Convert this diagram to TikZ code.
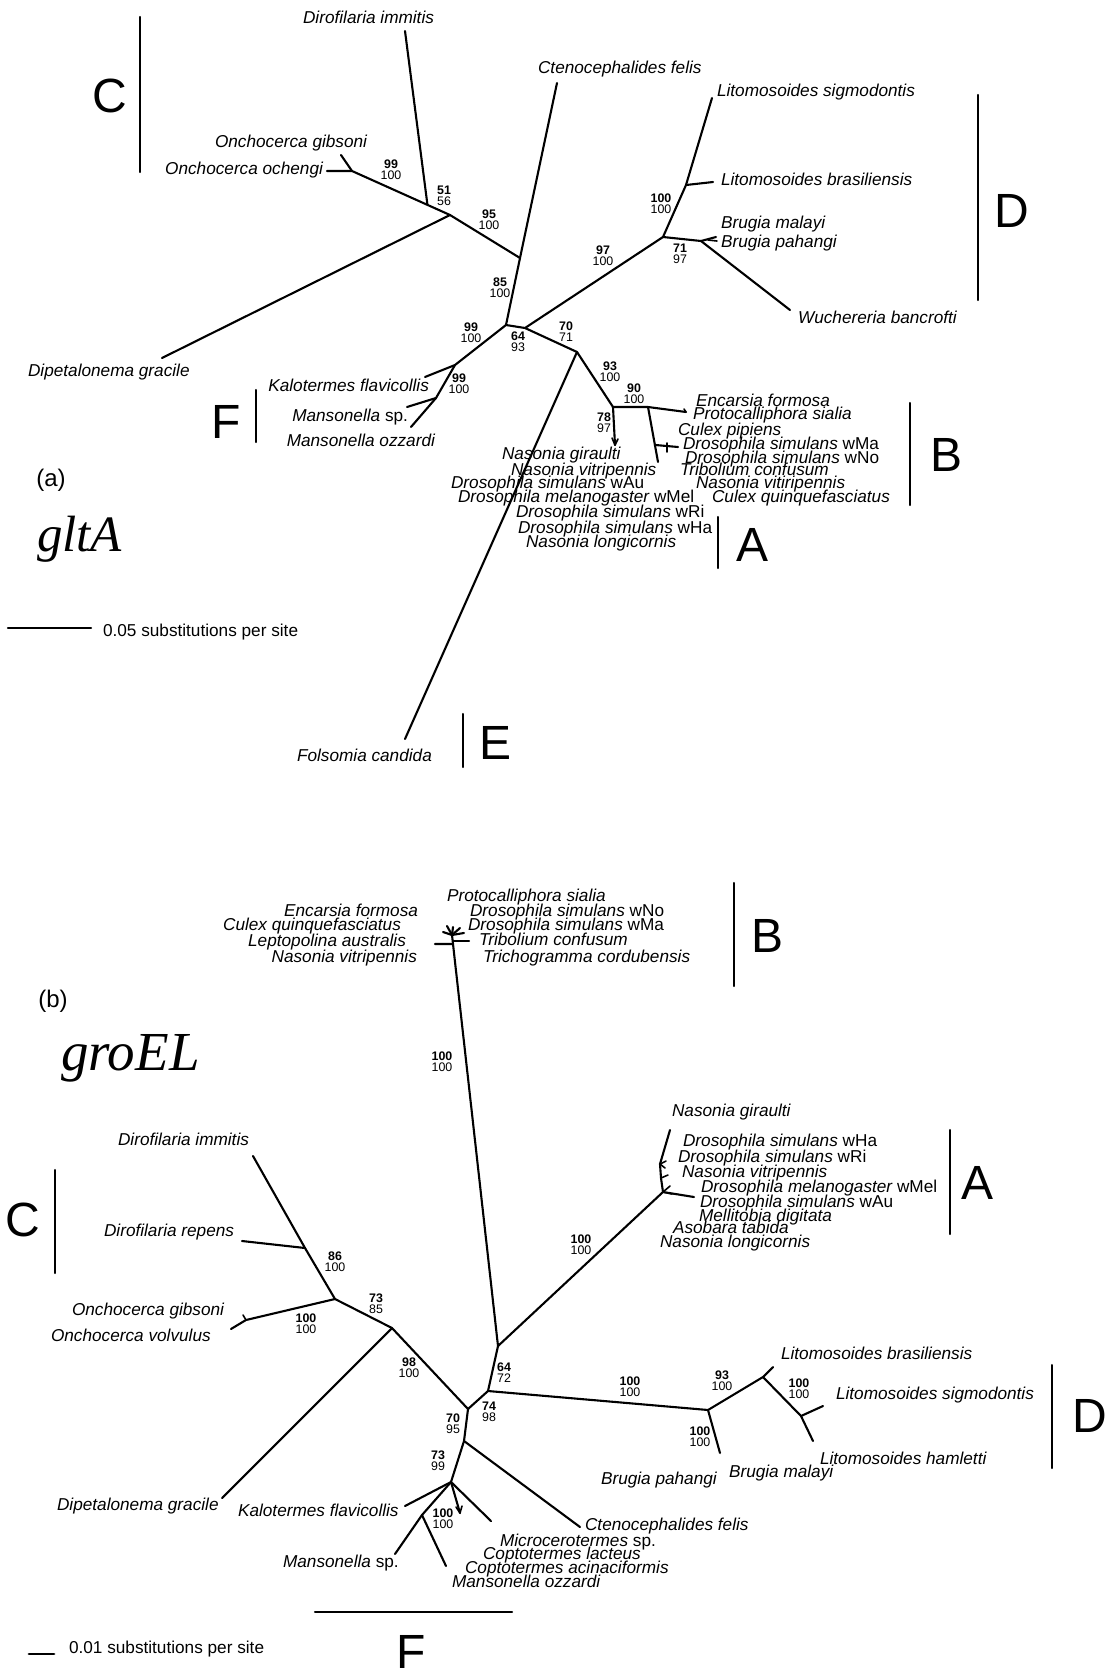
\documentclass[tikz,border=0pt]{standalone}
\usepackage{fontspec}
\setmainfont{Liberation Sans}
\newfontfamily\tmsfont{Liberation Serif}
\usetikzlibrary{calc}
\begin{document}
\begin{tikzpicture}[x=0.5pt,y=-0.5pt,line width=1.05pt,line cap=round,line join=round,
  tax/.style={font=\fontsize{8.6}{9}\selectfont\itshape,inner sep=0pt,text height=6.4pt,text depth=1.8pt},
  bs/.style={font=\fontsize{6.2}{5.4}\selectfont,align=center,inner sep=0pt},
  clade/.style={font=\fontsize{24}{24}\selectfont,inner sep=0pt},
  plain/.style={font=\fontsize{8.6}{9}\selectfont,inner sep=0pt},
  tick/.style={line width=0.8pt}]
\useasboundingbox (0,0) rectangle (1106,1670);

%================ (a) gltA =================
\coordinate (O) at (352,171);
\coordinate (Og) at (341,155);
\coordinate (Oo) at (327,171);
\coordinate (X) at (450,215);
\coordinate (J) at ($(O)!0.77!(X)$);
\coordinate (Di) at (405,31);
\coordinate (Dg) at (162,358);
\coordinate (Y) at (520,258);
\coordinate (Cf) at (557,83);
\coordinate (R) at (506,325);
\coordinate (K) at (455,365);
\coordinate (Kf) at (425,377);
\coordinate (M) at (436,398);
\coordinate (Ms) at (407,407);
\coordinate (Mo) at (411,427);
\coordinate (S) at (525,328);
\coordinate (T) at (577,352);
\coordinate (Fc) at (405,739);
\coordinate (U) at (613,407);
\coordinate (Ua) at (615,445);
\coordinate (V) at (648,407);
\coordinate (Ve) at (686,412);
\coordinate (Vd) at (658,462);
\coordinate (Vj) at ($(V)!0.69!(Vd)$);
\coordinate (Vs) at (678,447);
\coordinate (W) at (663,237);
\coordinate (Lj) at (686,185);
\coordinate (Ls) at (712,98);
\coordinate (Lb) at (713,182);
\coordinate (Bn) at (701,241);
\coordinate (Bm) at (716,237);
\coordinate (Wb) at (790,310);

\draw (Oo) -- (O) -- (J) -- (X);
\draw (Og) -- (O);
\draw (Di) -- (J);
\draw (X) -- (Dg);
\draw (X) -- (Y) -- (R);
\draw (Y) -- (Cf);
\draw (R) -- (K) -- (Kf);
\draw (K) -- (M) -- (Ms);
\draw (M) -- (Mo);
\draw (R) -- (S) -- (T) -- (Fc);
\draw (S) -- (W) -- (Lj) -- (Ls);
\draw (Lj) -- (Lb);
\draw (W) -- (Bn) -- (Wb);
\draw (Bn) -- (Bm);
\draw (T) -- (U) -- (V) -- (Ve);
\draw (U) -- (Ua);
\draw (V) -- (Vd);
\draw (Vj) -- (Vs);
\draw[tick] (Ua) -- ++(-3,-7);
\draw[tick] (Ua) -- ++(3,-6);
\draw[tick] (Vs) ++(-11,-4) -- ++(0,9);
\draw[tick] (Ve) -- ++(-2,-3);
\draw[tick] (Bm) ++(-8,3) -- ++(9,1);

% taxa (a)
\node[tax,anchor=west] (a1) at (302,19) {Dirofilaria immitis};
\node[tax,anchor=west] (a2) at (537,69) {Ctenocephalides felis};
\node[tax,anchor=west] (a3) at (716,92) {Litomosoides sigmodontis};
\node[tax,anchor=west] (a4) at (214,143) {Onchocerca gibsoni};
\node[tax,anchor=east] (a5) at (324,170) {Onchocerca ochengi};
\node[tax,anchor=west] (a6) at (27,372) {Dipetalonema gracile};
\node[tax,anchor=west] (a7) at (720,181) {Litomosoides brasiliensis};
\node[tax,anchor=west] (a8) at (720,224) {Brugia malayi};
\node[tax,anchor=west] (a9) at (720,243) {Brugia pahangi};
\node[tax,anchor=west] (a10) at (797,319) {Wuchereria bancrofti};
\node[tax,anchor=east] (a11) at (430,387) {Kalotermes flavicollis};
\node[tax,anchor=east] (a12) at (409,417) {Mansonella {\upshape sp.}};
\node[tax,anchor=east] (a13) at (436,442) {Mansonella ozzardi};
\node[tax,anchor=west] (a14) at (695,402) {Encarsia formosa};
\node[tax,anchor=west] (a15) at (692,415) {Protocalliphora sialia};
\node[tax,anchor=west] (a16) at (677,431) {Culex pipiens};
\node[tax,anchor=west] (a17) at (682,445) {Drosophila simulans {\upshape wMa}};
\node[tax,anchor=west] (a18) at (684,459) {Drosophila simulans {\upshape wNo}};
\node[tax,anchor=west] (a19) at (679,471) {Tribolium confusum};
\node[tax,anchor=west] (a20) at (695,484) {Nasonia vitiripennis};
\node[tax,anchor=west] (a21) at (711,498) {Culex quinquefasciatus};
\node[tax,anchor=west] (a22) at (501,455) {Nasonia giraulti};
\node[tax,anchor=west] (a23) at (510,471) {Nasonia vitripennis};
\node[tax,anchor=west] (a24) at (450,484) {Drosophila simulans {\upshape wAu}};
\node[tax,anchor=west] (a25) at (457,498) {Drosophila melanogaster {\upshape wMel}};
\node[tax,anchor=west] (a26) at (515,513) {Drosophila simulans {\upshape wRi}};
\node[tax,anchor=west] (a27) at (517,529) {Drosophila simulans {\upshape wHa}};
\node[tax,anchor=west] (a28) at (525,543) {Nasonia longicornis};
\node[tax,anchor=west] (a29) at (296,757) {Folsomia candida};

% bootstrap (a)
\node[bs] (p1) at (391,169.5) {\textbf{99}\\100};
\node[bs] (p2) at (444,196) {\textbf{51}\\56};
\node[bs] (p3) at (489,220) {\textbf{95}\\100};
\node[bs] (p4) at (500,288) {\textbf{85}\\100};
\node[bs] (p5) at (471,333) {\textbf{99}\\100};
\node[bs] (p6) at (518,342) {\textbf{64}\\93};
\node[bs] (p7) at (566,331.5) {\textbf{70}\\71};
\node[bs] (p8) at (603,256) {\textbf{97}\\100};
\node[bs] (p9) at (661,203.5) {\textbf{100}\\100};
\node[bs] (p10) at (680,253.5) {\textbf{71}\\97};
\node[bs] (p11) at (610,371.5) {\textbf{93}\\100};
\node[bs] (p12) at (634,394) {\textbf{90}\\100};
\node[bs] (p13) at (604,423) {\textbf{78}\\97};
\node[bs] (p14) at (459,383.5) {\textbf{99}\\100};

% clade bars (a)
\coordinate (cCt) at (140,17); \coordinate (cCb) at (140,172);
\coordinate (cDt) at (978,95); \coordinate (cDb) at (978,300);
\coordinate (cFt) at (256,390); \coordinate (cFb) at (256,442);
\coordinate (cBt) at (910,403); \coordinate (cBb) at (910,505);
\coordinate (cAt) at (718,517); \coordinate (cAb) at (718,568);
\coordinate (cEt) at (463,714); \coordinate (cEb) at (463,767);
\draw (cCt) -- (cCb);
\draw (cDt) -- (cDb);
\draw (cFt) -- (cFb);
\draw (cBt) -- (cBb);
\draw (cAt) -- (cAb);
\draw (cEt) -- (cEb);
\node[clade] (lC1) at (110,96) {C};
\node[clade] (lD1) at (1012,211) {D};
\node[clade] (lF1) at (226,422) {F};
\node[clade] (lB1) at (946,455) {B};
\node[clade] (lA1) at (752,545) {A};
\node[clade] (lE1) at (496,743) {E};

\node[font=\fontsize{12}{12}\selectfont,inner sep=0pt] (pa) at (51,480) {(a)};
\node[font=\fontsize{25.5}{26}\selectfont\tmsfont\itshape,inner sep=0pt,anchor=base west] (ga) at (36,551) {gltA};
\coordinate (sa1) at (8,628); \coordinate (sa2) at (91,628);
\draw (sa1) -- (sa2);
\node[plain,anchor=west] (sta) at (102,632) {0.05 substitutions per site};

%================ (b) groEL =================
\coordinate (Bk) at (453,944);
\coordinate (Bq) at (453,941);
\coordinate (Bs) at (452,935);
\coordinate (Bl) at (435,944);
\coordinate (Br) at (469,941);
\coordinate (s1) at (443,932);
\coordinate (s2) at (447,926);
\coordinate (s3) at (453,927);
\coordinate (s4) at (460,928);
\coordinate (s5) at (464,933);
\coordinate (P64) at (498,1346);
\coordinate (Ak) at (663,1192);
\coordinate (Aa) at (661,1178);
\coordinate (Ab) at (660,1164);
\coordinate (Ng) at (670,1130);
\coordinate (Am) at (694,1197);
\coordinate (N74) at (488,1391);
\coordinate (Dn) at (708,1410);
\coordinate (Bt) at (720,1453);
\coordinate (L93) at (763,1377);
\coordinate (Lbt) at (773,1367);
\coordinate (Ln2) at (801,1416);
\coordinate (Lst) at (823,1406);
\coordinate (Lht) at (813,1441);
\coordinate (N70) at (468,1409);
\coordinate (N98) at (392,1328);
\coordinate (Dgt) at (222,1498);
\coordinate (N73) at (335,1299);
\coordinate (Onc) at (246,1320);
\coordinate (Ovt) at (231,1329);
\coordinate (N86) at (305,1248);
\coordinate (Dit) at (253,1156);
\coordinate (Drt) at (242,1241);
\coordinate (Nc) at (464,1441);
\coordinate (Cft) at (580,1527);
\coordinate (NF) at (451,1482);
\coordinate (Kft) at (405,1506);
\coordinate (NM) at (422,1515);
\coordinate (Mst) at (395,1554);
\coordinate (Mot) at (446,1566);
\coordinate (Tt1) at (460,1513);
\coordinate (Tt2) at (491,1521);

\draw (Bl) -- (Bk) -- (P64);
\draw (Bk) -- (Bs);
\draw (Bq) -- (Br);
\foreach \s in {s1,s2,s3,s4,s5} \draw (Bs) -- (\s);
\draw (P64) -- (Ak) -- (Aa) -- (Ab) -- (Ng);
\draw (Ak) -- (Am);
\draw[tick] (Ab) -- ++(6,-3);
\draw[tick] (Ab) -- ++(5,4);
\draw[tick] (Aa) -- ++(7,-3);
\draw[tick] (Ak) -- ++(7,-6);
\draw[tick] (Ak) -- ++(9,2);
\draw (P64) -- (N74) -- (N70) -- (N98) -- (N73) -- (N86) -- (Dit);
\draw (N86) -- (Drt);
\draw (N73) -- (Onc) -- (Ovt);
\draw[tick] (Onc) -- ++(-3,-5);
\draw (N98) -- (Dgt);
\draw (N74) -- (Dn) -- (L93) -- (Lbt);
\draw (L93) -- (Ln2) -- (Lst);
\draw (Ln2) -- (Lht);
\draw (Dn) -- (Bt);
\draw (N70) -- (Nc) -- (NF) -- (NM) -- (Mst);
\draw (NM) -- (Mot);
\draw (Nc) -- (Cft);
\draw (NF) -- (Kft);
\draw (NF) -- (Tt1);
\draw (NF) -- (Tt2);
\draw[tick] (Tt1) -- ++(-4,-6);
\draw[tick] (Tt1) -- ++(2,-7);

% taxa (b)
\node[tax,anchor=west] (b1) at (446,897) {Protocalliphora sialia};
\node[tax,anchor=west] (b2) at (469,912) {Drosophila simulans {\upshape wNo}};
\node[tax,anchor=west] (b3) at (467,926) {Drosophila simulans {\upshape wMa}};
\node[tax,anchor=west] (b4) at (478,941) {Tribolium confusum};
\node[tax,anchor=west] (b5) at (482,958) {Trichogramma cordubensis};
\node[tax,anchor=east] (b6) at (419,912) {Encarsia formosa};
\node[tax,anchor=east] (b7) at (402,926) {Culex quinquefasciatus};
\node[tax,anchor=east] (b8) at (407,942) {Leptopolina australis};
\node[tax,anchor=east] (b9) at (418,958) {Nasonia vitripennis};
\node[tax,anchor=west] (b10) at (671,1112) {Nasonia giraulti};
\node[tax,anchor=west] (b11) at (682,1142) {Drosophila simulans {\upshape wHa}};
\node[tax,anchor=west] (b12) at (677,1158) {Drosophila simulans {\upshape wRi}};
\node[tax,anchor=west] (b13) at (681,1173) {Nasonia vitripennis};
\node[tax,anchor=west] (b14) at (700,1188) {Drosophila melanogaster {\upshape wMel}};
\node[tax,anchor=west] (b15) at (699,1203) {Drosophila simulans {\upshape wAu}};
\node[tax,anchor=west] (b16) at (698,1217) {Mellitobia digitata};
\node[tax,anchor=west] (b17) at (672,1229) {Asobara tabida};
\node[tax,anchor=west] (b18) at (659,1243) {Nasonia longicornis};
\node[tax,anchor=west] (b19) at (117,1141) {Dirofilaria immitis};
\node[tax,anchor=west] (b20) at (103,1232) {Dirofilaria repens};
\node[tax,anchor=west] (b21) at (71,1311) {Onchocerca gibsoni};
\node[tax,anchor=west] (b22) at (50,1337) {Onchocerca volvulus};
\node[tax,anchor=west] (b23) at (780,1355) {Litomosoides brasiliensis};
\node[tax,anchor=west] (b24) at (835,1395) {Litomosoides sigmodontis};
\node[tax,anchor=west] (b25) at (819,1460) {Litomosoides hamletti};
\node[tax,anchor=west] (b26) at (600,1480) {Brugia pahangi};
\node[tax,anchor=west] (b27) at (728,1473) {Brugia malayi};
\node[tax,anchor=west] (b28) at (56,1506) {Dipetalonema gracile};
\node[tax,anchor=west] (b29) at (237,1512) {Kalotermes flavicollis};
\node[tax,anchor=west] (b30) at (282,1563) {Mansonella {\upshape sp.}};
\node[tax,anchor=west] (b31) at (584,1526) {Ctenocephalides felis};
\node[tax,anchor=west] (b32) at (499,1542) {Microcerotermes {\upshape sp.}};
\node[tax,anchor=west] (b33) at (482,1555) {Coptotermes lacteus};
\node[tax,anchor=west] (b34) at (464,1569) {Coptotermes acinaciformis};
\node[tax,anchor=west] (b35) at (451,1583) {Mansonella ozzardi};

% bootstrap (b)
\node[bs] (q1) at (442,1062) {\textbf{100}\\100};
\node[bs] (q2) at (581,1244.5) {\textbf{100}\\100};
\node[bs] (q3) at (335,1261.5) {\textbf{86}\\100};
\node[bs] (q4) at (376,1303.5) {\textbf{73}\\85};
\node[bs] (q5) at (306,1323.5) {\textbf{100}\\100};
\node[bs] (q6) at (409,1368) {\textbf{98}\\100};
\node[bs] (q7) at (504,1372.5) {\textbf{64}\\72};
\node[bs] (q8) at (489,1412) {\textbf{74}\\98};
\node[bs] (q9) at (453,1423.5) {\textbf{70}\\95};
\node[bs] (q10) at (438,1461) {\textbf{73}\\99};
\node[bs] (q11) at (443,1518.5) {\textbf{100}\\100};
\node[bs] (q12) at (630,1387) {\textbf{100}\\100};
\node[bs] (q13) at (722,1380.5) {\textbf{93}\\100};
\node[bs] (q14) at (799,1389) {\textbf{100}\\100};
\node[bs] (q15) at (700,1436.5) {\textbf{100}\\100};

% clade bars (b)
\coordinate (dBt) at (734,883); \coordinate (dBb) at (734,986);
\coordinate (dAt) at (950,1130); \coordinate (dAb) at (950,1234);
\coordinate (dCt) at (55,1170); \coordinate (dCb) at (55,1273);
\coordinate (dDt) at (1052,1365); \coordinate (dDb) at (1052,1468);
\coordinate (dFl) at (315,1612); \coordinate (dFr) at (512,1612);
\draw (dBt) -- (dBb);
\draw (dAt) -- (dAb);
\draw (dCt) -- (dCb);
\draw (dDt) -- (dDb);
\draw (dFl) -- (dFr);
\node[clade] (lB2) at (767,936) {B};
\node[clade] (lA2) at (977,1183) {A};
\node[clade] (lC2) at (23,1220) {C};
\node[clade] (lD2) at (1090,1416) {D};
\node[clade] (lF2) at (411,1652) {F};

\node[font=\fontsize{12}{12}\selectfont,inner sep=0pt] (pb) at (53,1001) {(b)};
\node[font=\fontsize{27.5}{28}\selectfont\tmsfont\itshape,inner sep=0pt,anchor=base west] (gb) at (60,1070) {groEL};
\coordinate (sb1) at (29,1654); \coordinate (sb2) at (54,1654);
\draw[line width=1.4pt] (sb1) -- (sb2);
\node[plain,anchor=west] (stb) at (68,1649) {0.01 substitutions per site};
\end{tikzpicture}
\end{document}
